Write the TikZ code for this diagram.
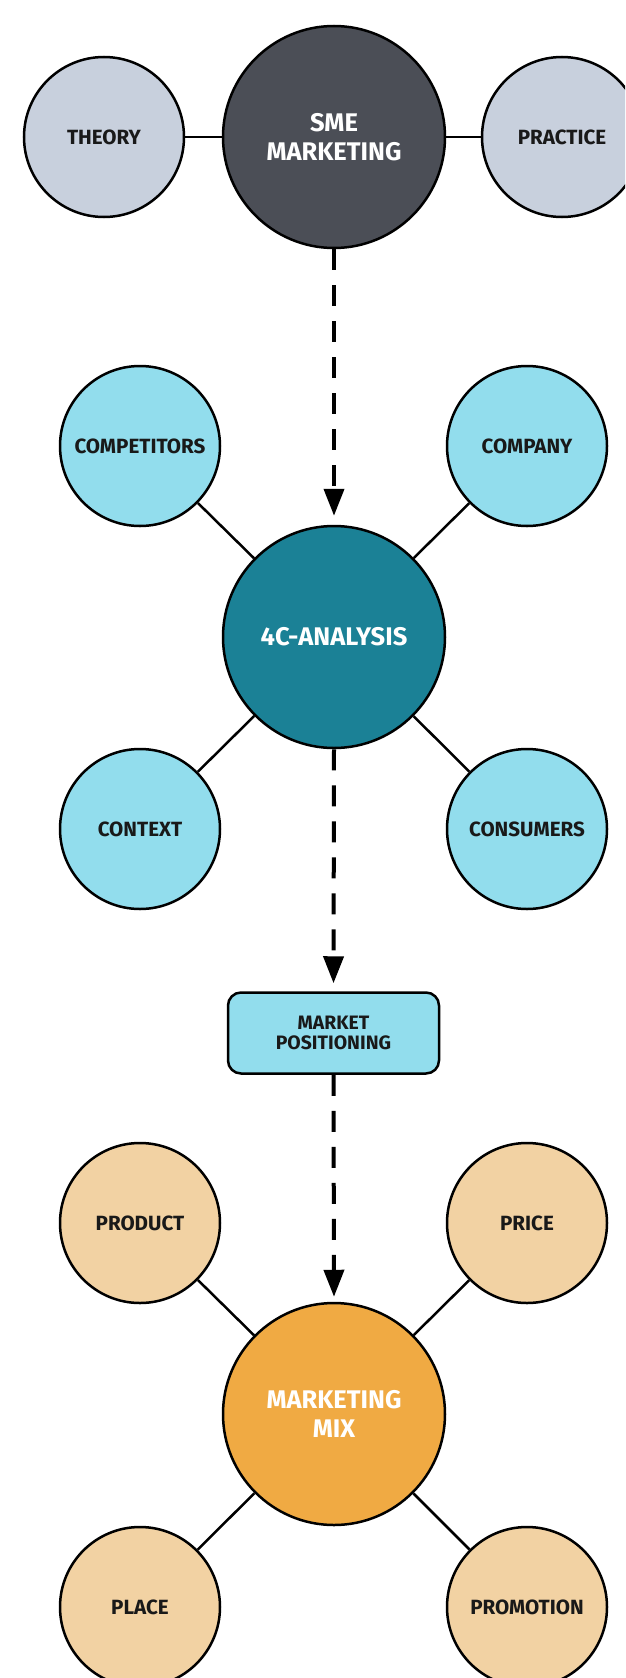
\documentclass[tikz,border=0pt]{standalone}
\usepackage{fontspec}
\setmainfont{Fira Sans}
\usetikzlibrary{arrows.meta}
\definecolor{smegray}{HTML}{4B4E56}
\definecolor{palegray}{HTML}{C8D0DD}
\definecolor{tealdark}{HTML}{1B8196}
\definecolor{cyanlight}{HTML}{92DDED}
\definecolor{orangemix}{HTML}{F0AA43}
\definecolor{orangelight}{HTML}{F2D2A3}
\tikzset{
  hub/.style={circle, draw=black, line width=2.5pt, minimum size=222pt, inner sep=0pt,
    align=center, text=white, font=\fontsize{25.5}{29.5}\selectfont\bfseries},
  sat/.style={circle, draw=black, line width=2.5pt, minimum size=160pt, inner sep=0pt,
    align=center, text=black!90, font=\fontsize{20.6}{24}\selectfont\bfseries},
  posbox/.style={rounded corners=13pt, draw=black, line width=2.5pt, fill=cyanlight,
    minimum width=211pt, minimum height=81pt, inner sep=0pt, align=center,
    text=black!90, font=\fontsize{19.4}{20}\selectfont\bfseries},
  link/.style={line width=2.5pt, draw=black},
  flow/.style={line width=4pt, draw=black, dash pattern=on 21pt off 15pt,
    -{Triangle[width=20pt,length=27pt]}}
}
\begin{document}
\begin{tikzpicture}[x=1pt,y=-1pt]
\useasboundingbox (0,0) rectangle (625,1678);
\begin{scope}
\clip (0,0) rectangle (625,1678);
% top row
\node[hub, fill=smegray] (sme) at (334,137) {SME\\MARKETING};
\node[sat, fill=palegray] (theory) at (104,137) {THEORY};
\node[sat, fill=palegray] (practice) at (562,137) {PRACTICE};
\draw[link] (theory) -- (sme);
\draw[link] (sme) -- (practice);

% 4C analysis cluster
\node[hub, fill=tealdark] (fourc) at (334,637) {4C-ANALYSIS};
\node[sat, fill=cyanlight] (competitors) at (140,446) {COMPETITORS};
\node[sat, fill=cyanlight] (company) at (527,446) {COMPANY};
\node[sat, fill=cyanlight] (context) at (140,829) {CONTEXT};
\node[sat, fill=cyanlight] (consumers) at (527,829) {CONSUMERS};
\foreach \s in {competitors,company,context,consumers}
  \draw[link] (fourc) -- (\s);

% positioning box
\node[posbox] (positioning) at (333.5,1033) {MARKET\\POSITIONING};

% marketing mix cluster
\node[hub, fill=orangemix] (mix) at (334,1414) {MARKETING\\MIX};
\node[sat, fill=orangelight] (product) at (140,1223) {PRODUCT};
\node[sat, fill=orangelight] (price) at (527,1223) {PRICE};
\node[sat, fill=orangelight] (place) at (140,1607) {PLACE};
\node[sat, fill=orangelight] (promotion) at (527,1607) {PROMOTION};
\foreach \s in {product,price,place,promotion}
  \draw[link] (mix) -- (\s);

% flow arrows
\draw[flow, shorten >=9pt] (sme.south) -- (fourc.north);
\draw[flow, shorten >=8pt] (fourc.south) -- (positioning.north);
\draw[flow, shorten >=5pt] (positioning.south) -- (mix.north);
\end{scope}
\end{tikzpicture}
\end{document}
